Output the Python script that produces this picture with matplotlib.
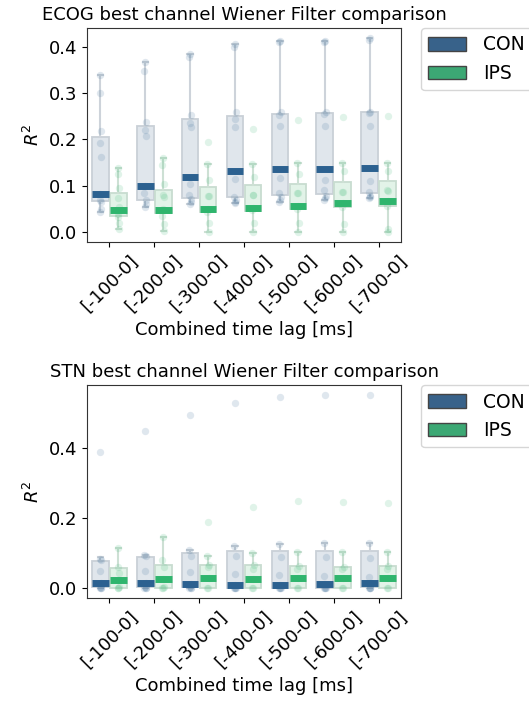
import matplotlib
matplotlib.use("Agg")
import matplotlib.pyplot as plt
from matplotlib.patches import Patch

lags = ['[-100-0]', '[-200-0]', '[-300-0]', '[-400-0]', '[-500-0]', '[-600-0]', '[-700-0]']
groups = ['CON', 'IPS']

# ---- ECOG box statistics ----
ecog_con_med = [0.083, 0.100, 0.118, 0.131, 0.136, 0.137, 0.139]
ecog_con_q1 = [0.067, 0.070, 0.074, 0.076, 0.080, 0.082, 0.085]
ecog_con_q3 = [0.205, 0.228, 0.243, 0.251, 0.255, 0.257, 0.259]
ecog_con_lo = [0.044, 0.055, 0.060, 0.063, 0.065, 0.069, 0.073]
ecog_con_hi = [0.338, 0.367, 0.383, 0.406, 0.411, 0.412, 0.418]

ecog_ips_med = [0.047, 0.049, 0.050, 0.053, 0.057, 0.062, 0.067]
ecog_ips_q1 = [0.035, 0.041, 0.043, 0.046, 0.050, 0.054, 0.056]
ecog_ips_q3 = [0.085, 0.091, 0.097, 0.101, 0.105, 0.108, 0.110]
ecog_ips_lo = [0.006, 0.003, 0.0, 0.0, 0.0, 0.0, 0.0]
ecog_ips_hi = [0.139, 0.160, 0.147, 0.148, 0.149, 0.149, 0.150]

ecog_con_pts = [
    [0.338, 0.300, 0.218, 0.193, 0.163, 0.083, 0.070, 0.065, 0.051, 0.044],
    [0.367, 0.347, 0.238, 0.221, 0.207, 0.100, 0.084, 0.069, 0.060, 0.055],
    [0.383, 0.377, 0.252, 0.236, 0.227, 0.105, 0.081, 0.072, 0.065, 0.060],
    [0.406, 0.400, 0.259, 0.244, 0.227, 0.115, 0.076, 0.069, 0.065, 0.063],
    [0.411, 0.409, 0.259, 0.252, 0.229, 0.117, 0.085, 0.076, 0.070, 0.065],
    [0.412, 0.410, 0.259, 0.255, 0.229, 0.112, 0.090, 0.078, 0.073, 0.069],
    [0.418, 0.414, 0.259, 0.257, 0.229, 0.110, 0.087, 0.078, 0.075, 0.073],
]
ecog_ips_pts = [
    [0.139, 0.125, 0.096, 0.074, 0.055, 0.040, 0.033, 0.020, 0.006],
    [0.160, 0.144, 0.105, 0.080, 0.075, 0.050, 0.035, 0.017, 0.003],
    [0.194, 0.147, 0.113, 0.078, 0.078, 0.050, 0.043, 0.020, 0.000],
    [0.222, 0.148, 0.120, 0.081, 0.081, 0.053, 0.047, 0.020, 0.000],
    [0.241, 0.149, 0.126, 0.085, 0.085, 0.057, 0.050, 0.019, 0.000],
    [0.249, 0.149, 0.131, 0.087, 0.087, 0.062, 0.054, 0.017, 0.000],
    [0.251, 0.150, 0.131, 0.090, 0.088, 0.067, 0.056, 0.008, 0.000],
]

# ---- STN box statistics ----
stn_con_med = [0.016, 0.015, 0.013, 0.008, 0.008, 0.011, 0.014]
stn_con_q1 = [0.004, 0.003, 0.003, 0.001, 0.000, 0.002, 0.003]
stn_con_q3 = [0.079, 0.090, 0.100, 0.105, 0.105, 0.106, 0.106]
stn_con_lo = [0.0, 0.0, 0.0, 0.0, 0.0, 0.0, 0.0]
stn_con_hi = [0.090, 0.095, 0.109, 0.122, 0.126, 0.130, 0.130]

stn_ips_med = [0.023, 0.027, 0.029, 0.027, 0.029, 0.029, 0.030]
stn_ips_q1 = [0.002, 0.002, 0.002, 0.002, 0.002, 0.002, 0.002]
stn_ips_q3 = [0.059, 0.065, 0.067, 0.065, 0.063, 0.062, 0.063]
stn_ips_lo = [0.0, 0.0, 0.0, 0.0, 0.0, 0.0, 0.0]
stn_ips_hi = [0.115, 0.145, 0.093, 0.100, 0.103, 0.103, 0.103]

stn_con_pts = [
    [0.390, 0.083, 0.080, 0.048, 0.016, 0.003, 0.0, 0.0, 0.0],
    [0.449, 0.095, 0.093, 0.048, 0.015, 0.003, 0.0, 0.0, 0.0],
    [0.496, 0.109, 0.093, 0.045, 0.013, 0.003, 0.0, 0.0, 0.0],
    [0.529, 0.122, 0.093, 0.042, 0.008, 0.000, 0.0, 0.0, 0.0],
    [0.546, 0.126, 0.090, 0.038, 0.008, 0.000, 0.0, 0.0, 0.0],
    [0.552, 0.130, 0.090, 0.035, 0.011, 0.000, 0.0, 0.0, 0.0],
    [0.553, 0.130, 0.087, 0.033, 0.014, 0.000, 0.0, 0.0, 0.0],
]
stn_ips_pts = [
    [0.115, 0.062, 0.043, 0.023, 0.003, 0.0, 0.0],
    [0.145, 0.080, 0.062, 0.027, 0.003, 0.0, 0.0],
    [0.189, 0.093, 0.067, 0.060, 0.029, 0.0, 0.0],
    [0.233, 0.100, 0.065, 0.055, 0.027, 0.0, 0.0],
    [0.248, 0.103, 0.063, 0.055, 0.029, 0.0, 0.0],
    [0.246, 0.103, 0.062, 0.055, 0.029, 0.0, 0.0],
    [0.243, 0.103, 0.063, 0.055, 0.030, 0.0, 0.0],
]

CON_C = '#2c6190'
IPS_C = '#2fb56d'
CON_FILL = '#e0e6ec'
IPS_FILL = '#e2f3e8'
CON_EDGE = '#c9d0d7'
IPS_EDGE = '#c8dcd0'
CON_WHISK = '#cdd3da'
IPS_WHISK = '#cde0d4'
LEG_CON = '#38628a'
LEG_IPS = '#3ca874'

FS = 13
LFS = 13.5

fig = plt.figure(figsize=(5.29, 7.02), dpi=100)
W, H = 529, 702


def draw(ax, meds, q1s, q3s, los, his, pts_list, offset, fill, edge, whisk, col):
    stats = []
    positions = []
    for i in range(len(lags)):
        stats.append(dict(med=meds[i], q1=q1s[i], q3=q3s[i], whislo=los[i], whishi=his[i], fliers=[]))
        positions.append(i + offset)
    ax.bxp(stats, positions=positions, widths=0.37, patch_artist=True, showfliers=False,
           boxprops=dict(facecolor=fill, edgecolor=edge, linewidth=1.3),
           whiskerprops=dict(color=whisk, linewidth=1.5),
           capprops=dict(color=whisk, linewidth=1.5),
           capwidths=0.12,
           medianprops=dict(color=col, linewidth=5, solid_capstyle='butt'),
           manage_ticks=False, zorder=2)
    jit = [0.0, -0.02, 0.02, -0.01, 0.01, 0.0, -0.02, 0.02, 0.01, -0.01]
    for i, pts in enumerate(pts_list):
        xs = [i + offset + jit[k % len(jit)] for k in range(len(pts))]
        ax.scatter(xs, pts, s=28, color=col, alpha=0.15, linewidths=0, zorder=3)


def panel(rect, title, con, ips):
    ax = fig.add_axes(rect)
    draw(ax, *con, -0.2, CON_FILL, CON_EDGE, CON_WHISK, CON_C)
    draw(ax, *ips, 0.2, IPS_FILL, IPS_EDGE, IPS_WHISK, IPS_C)
    ax.set_xlim(-0.5, len(lags) - 0.5)
    ax.set_xticks(range(len(lags)))
    ax.set_xticklabels(lags, rotation=45, fontsize=FS)
    ax.tick_params(axis='y', labelsize=FS)
    ax.set_ylabel('$R^2$', fontsize=FS)
    ax.set_xlabel('Combined time lag [ms]', fontsize=FS)
    ax.set_title(title, fontsize=FS, loc='center')
    for s in ax.spines.values():
        s.set_color('#333333')
    handles = [Patch(facecolor=LEG_CON, edgecolor='#444444', label=groups[0]),
               Patch(facecolor=LEG_IPS, edgecolor='#444444', label=groups[1])]
    ax.legend(handles=handles, bbox_to_anchor=(1.063, 1), loc='upper left',
              borderaxespad=0, fontsize=LFS, handletextpad=0.9)
    return ax


ax1 = panel([87 / W, 1 - 242 / H, 314 / W, 214 / H], 'ECOG best channel Wiener Filter comparison',
            (ecog_con_med, ecog_con_q1, ecog_con_q3, ecog_con_lo, ecog_con_hi, ecog_con_pts),
            (ecog_ips_med, ecog_ips_q1, ecog_ips_q3, ecog_ips_lo, ecog_ips_hi, ecog_ips_pts))
ax1.set_ylim(-0.021, 0.44)
ax1.set_yticks([0.0, 0.1, 0.2, 0.3, 0.4])

ax2 = panel([87 / W, 1 - 598 / H, 314 / W, 213 / H], 'STN best channel Wiener Filter comparison',
            (stn_con_med, stn_con_q1, stn_con_q3, stn_con_lo, stn_con_hi, stn_con_pts),
            (stn_ips_med, stn_ips_q1, stn_ips_q3, stn_ips_lo, stn_ips_hi, stn_ips_pts))
ax2.set_ylim(-0.028, 0.581)
ax2.set_yticks([0.0, 0.2, 0.4])

fig.savefig('out.png', dpi=100)
